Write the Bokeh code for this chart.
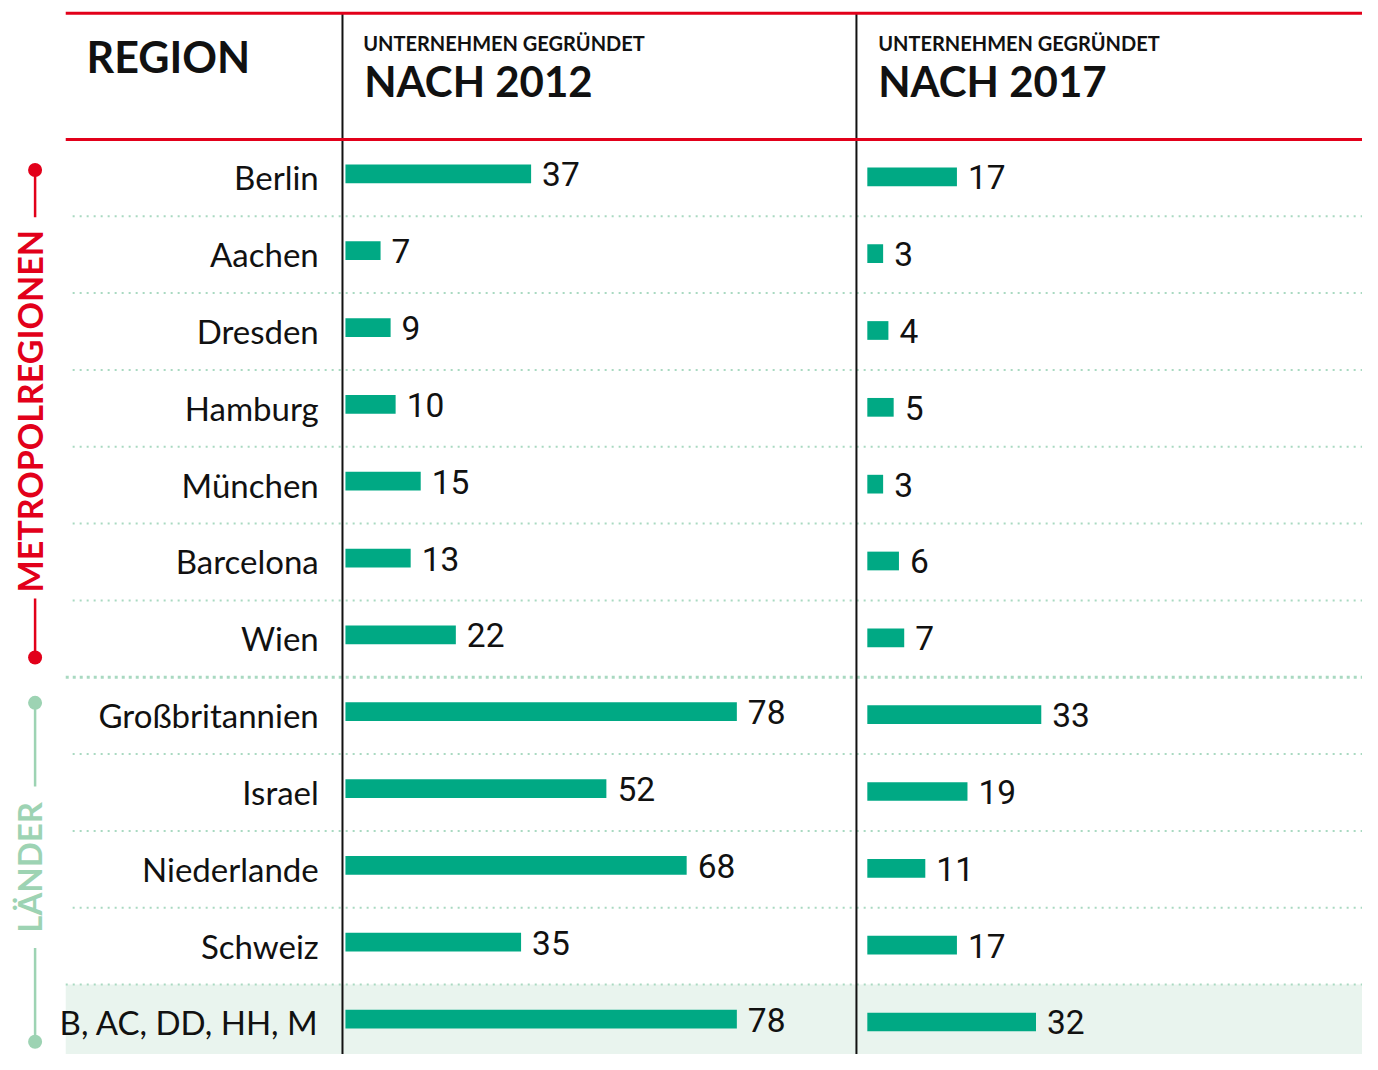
import math
from bokeh.plotting import figure
from bokeh.models import Range1d
from bokeh.core.properties import value
from bokeh.embed import file_html
from bokeh.resources import INLINE

# ---------------- data ----------------
regions = ["Berlin", "Aachen", "Dresden", "Hamburg", "München", "Barcelona", "Wien",
           "Großbritannien", "Israel", "Niederlande", "Schweiz", "B, AC, DD, HH, M"]
nach_2012 = [37, 7, 9, 10, 15, 13, 22, 78, 52, 68, 35, 78]
nach_2017 = [17, 3, 4, 5, 3, 6, 7, 33, 19, 11, 17, 32]
group_labels = ["METROPOLREGIONEN", "LÄNDER"]
group_sizes = [7, 5]
header_region = "REGION"
header_sub = "UNTERNEHMEN GEGRÜNDET"
header_cols = ["NACH 2012", "NACH 2017"]

# ---------------- style / layout ----------------
RED = "#e2001a"
GREEN = "#00a984"
LGREEN = "#9dd3b3"
DOT = "#a9d9c1"
SHADE = "#e9f4ee"
INK = "#111111"
FONT = value("Lato")
NUMFONT = value("Roboto")

W, H = 1362, 1054
RX, RY = 1378, 1070          # layout units (reference pixels)

TOP_LINE, HEAD_LINE = 13, 141
ROW_H = 78
LEFT = 66
COL1, COL2 = 346, 866
BAR1_X, BAR2_X = 349, 877
BAR1_W_MAX, BAR2_W_MAX = 396.0, 176.0
k12 = BAR1_W_MAX / 78.0
k17 = BAR2_W_MAX / 33.0

n = len(regions)
centers = [HEAD_LINE + ROW_H * (i + 0.5) for i in range(n)]

p = figure(width=W, height=H, x_range=Range1d(0, RX), y_range=Range1d(RY, 0),
           output_backend="svg", toolbar_location=None, min_border=0,
           x_axis_type=None, y_axis_type=None)
p.grid.visible = False
p.outline_line_color = None
p.background_fill_color = "white"
p.border_fill_color = "white"

p.extra_x_ranges = {
    "r12": Range1d((0 - BAR1_X) / k12, (RX - BAR1_X) / k12),
    "r17": Range1d((0 - BAR2_X) / k17, (RX - BAR2_X) / k17),
}

# shaded total row
last_top = HEAD_LINE + ROW_H * (n - 1)
p.quad(left=[LEFT], right=[RX + 10], top=[last_top], bottom=[RY + 10],
       fill_color=SHADE, line_color=None)

# dotted separators
seps = [HEAD_LINE + ROW_H * i for i in range(1, n)]
group_break = HEAD_LINE + ROW_H * group_sizes[0]
normal = [s for s in seps if s != group_break and s != last_top]
p.segment(x0=[73] * len(normal), x1=[RX + 10] * len(normal), y0=normal, y1=normal,
          line_color=DOT, line_width=2, line_dash="2 5")
p.segment(x0=[LEFT], x1=[RX + 10], y0=[last_top], y1=[last_top],
          line_color=DOT, line_width=2, line_dash="2 5")
p.segment(x0=[LEFT], x1=[RX + 10], y0=[group_break], y1=[group_break],
          line_color=DOT, line_width=3, line_dash="3 4")

# column separators
p.segment(x0=[COL1, COL2], x1=[COL1, COL2], y0=[TOP_LINE, TOP_LINE], y1=[RY + 10, RY + 10],
          line_color="#111111", line_width=2)

# red header lines
p.segment(x0=[LEFT, LEFT], x1=[RX + 10, RX + 10], y0=[TOP_LINE, HEAD_LINE],
          y1=[TOP_LINE, HEAD_LINE], line_color=RED, line_width=3)

# headers
p.text(x=[87], y=[57], text=[header_region], text_font=FONT, text_font_style="bold",
       text_font_size="43px", text_color=INK, text_baseline="alphabetic")
p.text(x=[367, 888], y=[43, 43], text=[header_sub, header_sub], text_font=FONT,
       text_font_style="bold", text_font_size="20px", text_color=INK,
       text_baseline="alphabetic")
p.text(x=[368, 888], y=[82, 82], text=header_cols, text_font=FONT,
       text_font_style="bold", text_font_size="42px", text_color=INK,
       text_baseline="alphabetic")

# row labels
p.text(x=[322] * n, y=[c - 0.5 for c in centers], text=regions, text_font=FONT,
       text_font_size="33px", text_color=INK, text_align="right",
       text_baseline="alphabetic")

# bars
y12 = [c - 4 for c in centers]
y17 = [c - 1 for c in centers]
p.hbar(y=y12, left=0, right=nach_2012, height=19, fill_color=GREEN, line_color=None,
       x_range_name="r12")
p.hbar(y=y17, left=0, right=nach_2017, height=19, fill_color=GREEN, line_color=None,
       x_range_name="r17")
p.text(x=nach_2012, y=[y + 0.5 for y in y12], text=[str(v) for v in nach_2012],
       x_range_name="r12", x_offset=11, text_font=NUMFONT, text_font_size="33.5px",
       text_color=INK, text_baseline="alphabetic")
p.text(x=nach_2017, y=[y + 0.5 for y in y17], text=[str(v) for v in nach_2017],
       x_range_name="r17", x_offset=11, text_font=NUMFONT, text_font_size="33.5px",
       text_color=INK, text_baseline="alphabetic")

# group brackets on the left
LX = 35
p.segment(x0=[LX, LX], x1=[LX, LX], y0=[172, 607], y1=[220, 667],
          line_color=RED, line_width=2.5)
p.scatter(x=[LX, LX], y=[172, 667], size=14, fill_color=RED, line_color=None)
p.text(x=[29], y=[417], text=[group_labels[0]], angle=math.pi / 2, text_font=FONT,
       text_font_style="bold", text_font_size="34px", text_color=RED,
       text_align="center", text_baseline="alphabetic")
p.segment(x0=[LX, LX], x1=[LX, LX], y0=[713, 962], y1=[798, 1057],
          line_color=LGREEN, line_width=2.5)
p.scatter(x=[LX, LX], y=[713, 1057], size=14, fill_color=LGREEN, line_color=None)
p.text(x=[29], y=[880], text=[group_labels[1]], angle=math.pi / 2, text_font=FONT,
       text_font_style="bold", text_font_size="33px", text_color=LGREEN,
       text_align="center", text_baseline="alphabetic")

open("out.html", "w").write(file_html(p, INLINE))
